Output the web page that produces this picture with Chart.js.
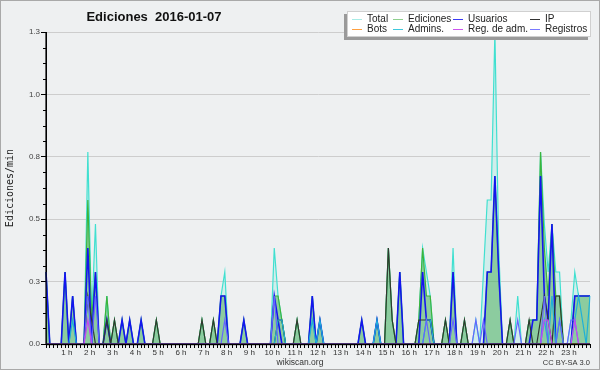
<!DOCTYPE html>
<html><head><meta charset="utf-8">
<script src="https://cdn.jsdelivr.net/npm/chart.js@4/dist/chart.umd.min.js"></script>
<style>html,body{margin:0;padding:0;background:#eef0f1}canvas{display:block}</style>
</head><body>
<canvas id="c" width="600" height="370"></canvas>
<script>
// ---- categories: 10-minute bins of the day ----
const times = [];
for (let h = 0; h < 24; h++) for (let m = 0; m < 60; m += 10)
  times.push(String(h).padStart(2, '0') + ':' + String(m).padStart(2, '0'));

// ---- tick labels ----
const hourLabels = ['1 h','2 h','3 h','4 h','5 h','6 h','7 h','8 h','9 h','10 h','11 h','12 h',
  '13 h','14 h','15 h','16 h','17 h','18 h','19 h','20 h','21 h','22 h','23 h'];
const yTicks = [0, 0.26, 0.52, 0.78, 1.04, 1.3];

// ---- series (edits per minute, 10-minute bins) ----
const total = [
 0.3,0,0,0,0,0.3,0,0.2,0,0,0,0.8,
 0.1,0.5,0,0,0.2,0,0.1,0,0.1,0,0.1,0,
 0,0.1,0,0,0,0.1,0,0,0,0,0,0,
 0,0,0,0,0,0.1,0,0,0.1,0,0.2,0.3,
 0,0,0,0,0.1,0,0,0,0,0,0,0,
 0.4,0.2,0.1,0,0,0,0.1,0,0,0,0.2,0,
 0.1,0,0,0,0,0,0,0,0,0,0,0.1,
 0,0,0,0.1,0,0,0.4,0.1,0,0.3,0,0,
 0,0,0.1,0.4,0.3,0.2,0,0,0,0.1,0,0.4,
 0,0,0.1,0,0,0.1,0,0.3,0.6,0.6,1.3,0.4,
 0,0,0.1,0,0.2,0,0,0.1,0.1,0.1,0.8,0.5,
 0.3,0.5,0.3,0.3,0,0,0.1,0.3,0.2,0.2,0.2,0.2];
const ediciones = [
 0.3,0,0,0,0,0.3,0,0.2,0,0,0,0.6,
 0.1,0.3,0,0,0.2,0,0.1,0,0.1,0,0.1,0,
 0,0.1,0,0,0,0.1,0,0,0,0,0,0,
 0,0,0,0,0,0.1,0,0,0.1,0,0.2,0.2,
 0,0,0,0,0.1,0,0,0,0,0,0,0,
 0.2,0.2,0.1,0,0,0,0.1,0,0,0,0.2,0,
 0.1,0,0,0,0,0,0,0,0,0,0,0.1,
 0,0,0,0.1,0,0,0.4,0.1,0,0.3,0,0,
 0,0,0.1,0.4,0.2,0.2,0,0,0,0.1,0,0.3,
 0,0,0.1,0,0,0,0,0,0.3,0.3,0.7,0.3,
 0,0,0.1,0,0,0,0,0.1,0.1,0.1,0.8,0.4,
 0.2,0.5,0.2,0.2,0,0,0,0.2,0.2,0.2,0.2,0.2];
const usuarios = [
 0.3,0,0,0,0,0.3,0,0.2,0,0,0,0.4,
 0,0.3,0,0,0.1,0,0,0,0.1,0,0.1,0,
 0,0.1,0,0,0,0,0,0,0,0,0,0,
 0,0,0,0,0,0,0,0,0,0,0.2,0.2,
 0,0,0,0,0.1,0,0,0,0,0,0,0,
 0.2,0.1,0,0,0,0,0,0,0,0,0.2,0,
 0.1,0,0,0,0,0,0,0,0,0,0,0.1,
 0,0,0,0.1,0,0,0,0,0,0.3,0,0,
 0,0,0,0.3,0.1,0.1,0,0,0,0,0,0.3,
 0,0,0,0,0,0,0,0,0.3,0.3,0.7,0.3,
 0,0,0,0,0,0,0,0,0.1,0.1,0.7,0.2,
 0.1,0.5,0,0,0,0,0,0.2,0.2,0.2,0.2,0.2];
const ip = [
 0,0,0,0,0,0,0,0,0,0,0,0.2,
 0.1,0,0,0,0.1,0,0.1,0,0,0,0,0,
 0,0,0,0,0,0.1,0,0,0,0,0,0,
 0,0,0,0,0,0.1,0,0,0.1,0,0,0,
 0,0,0,0,0,0,0,0,0,0,0,0,
 0,0.1,0.1,0,0,0,0.1,0,0,0,0,0,
 0,0,0,0,0,0,0,0,0,0,0,0,
 0,0,0,0,0,0,0.4,0.1,0,0,0,0,
 0,0,0.1,0.1,0.1,0.1,0,0,0,0.1,0,0,
 0,0,0.1,0,0,0,0,0,0,0,0,0,
 0,0,0.1,0,0,0,0,0.1,0,0,0.1,0.2,
 0.1,0,0.2,0.2,0,0,0,0,0,0,0,0];
const bots = [
 0,0,0,0,0,0,0,0,0,0,0,0, 0,0,0,0,0,0,0,0,0,0,0,0,
 0,0,0,0,0,0,0,0,0,0,0,0, 0,0,0,0,0,0,0,0,0,0,0,0,
 0,0,0,0,0,0,0,0,0,0,0,0, 0,0,0,0,0,0,0,0,0,0,0,0,
 0,0,0,0,0,0,0,0,0,0,0,0, 0,0,0,0,0,0,0,0,0,0,0,0,
 0,0,0,0,0,0,0,0,0,0,0,0, 0,0,0,0,0,0,0,0,0,0,0,0,
 0,0,0,0,0,0,0,0,0,0,0,0, 0,0,0,0,0,0,0,0,0,0,0,0];
const admins = [
 0,0,0,0,0,0,0,0.1,0,0,0,0,
 0,0,0,0,0,0,0,0,0,0,0,0,
 0,0,0,0,0,0,0,0,0,0,0,0,
 0,0,0,0,0,0,0,0,0,0,0,0,
 0,0,0,0,0,0,0,0,0,0,0,0,
 0,0.1,0.1,0,0,0,0,0,0,0,0.1,0,
 0.1,0,0,0,0,0,0,0,0,0,0,0,
 0,0,0,0.1,0,0,0,0,0,0,0,0,
 0,0,0,0,0.1,0.1,0,0,0,0,0,0,
 0,0,0,0,0,0,0,0,0,0,0,0,
 0,0,0,0,0,0,0,0,0,0,0,0.1,
 0,0.2,0,0.1,0,0,0,0.1,0.2,0.1,0,0.2];
const regAdm = [
 0,0,0,0,0,0,0,0,0,0,0,0.1,
 0,0,0,0,0,0,0,0,0,0,0,0,
 0,0,0,0,0,0,0,0,0,0,0,0,
 0,0,0,0,0,0,0,0,0,0,0,0,
 0,0,0,0,0,0,0,0,0,0,0,0,
 0,0,0,0,0,0,0,0,0,0,0,0,
 0,0,0,0,0,0,0,0,0,0,0,0,
 0,0,0,0,0,0,0,0,0,0,0,0,
 0,0,0,0,0,0,0,0,0,0,0,0,
 0,0,0,0,0,0,0,0,0,0,0,0,
 0,0,0,0,0,0,0,0,0,0,0,0.1,
 0.1,0,0,0,0,0,0,0.1,0,0,0,0];
const registros = [
 0,0,0,0,0,0,0,0,0,0,0,0.2,
 0,0.2,0,0,0,0,0,0,0,0,0,0,
 0,0,0,0,0,0,0,0,0,0,0,0,
 0,0,0,0,0,0,0,0,0,0,0,0.1,
 0,0,0,0,0,0,0,0,0,0,0,0,
 0.2,0,0,0,0,0,0,0,0,0,0,0,
 0,0,0,0,0,0,0,0,0,0,0,0,
 0,0,0,0,0,0,0,0,0,0,0,0,
 0,0,0,0,0.1,0,0,0,0,0,0,0.1,
 0,0,0,0,0,0.1,0,0.1,0,0,0,0,
 0,0,0,0,0.1,0,0,0,0,0,0,0.2,
 0,0,0,0.1,0,0,0.1,0.1,0,0,0,0];

const BG = '#eef0f1';
const titleText = 'Ediciones  2016-01-07';
const yTitle = 'Ediciones/min';
const legendRows = [
  [['Total', '#a8ece6'], ['Ediciones', '#8fd08f'], ['Usuarios', '#3a3af5'], ['IP', '#333333']],
  [['Bots', '#ffa040'], ['Admins.', '#3ec8dc'], ['Reg. de adm.', '#cc55ee'], ['Registros', '#7a7aff']]
];

Chart.defaults.font.family = '"Liberation Sans", Arial, sans-serif';

const decor = {
  id: 'decor',
  beforeDraw(chart) {
    const c = chart.ctx;
    c.save(); c.fillStyle = BG; c.fillRect(0, 0, chart.width, chart.height); c.restore();
  },
  afterDatasetsDraw(chart) {
    const { ctx, chartArea: a, scales: { y } } = chart;
    ctx.save();
    ctx.fillStyle = '#000';
    ctx.fillRect(a.left, a.bottom - 0.5, a.right - a.left, 1.7);
    ctx.fillRect(a.left - 0.6, a.top, 1.3, a.bottom - a.top + 1);
    ctx.strokeStyle = '#000'; ctx.lineWidth = 1;
    for (let k = 0; k < yTicks.length - 1; k++) {
      const step = (yTicks[k + 1] - yTicks[k]) / 4;
      for (let j = 1; j < 4; j++) {
        const py = Math.round(y.getPixelForValue(yTicks[k] + j * step)) + 0.5;
        ctx.beginPath(); ctx.moveTo(a.left - 3, py); ctx.lineTo(a.left, py); ctx.stroke();
      }
    }
    ctx.restore();
  },
  afterDraw(chart) {
    const ctx = chart.ctx;
    ctx.save();
    // title
    ctx.fillStyle = '#111';
    ctx.font = 'bold 13px "Liberation Sans", Arial, sans-serif';
    ctx.textAlign = 'center'; ctx.textBaseline = 'alphabetic';
    ctx.fillText(titleText, 154, 21);
    // legend box
    const bx = 347, by = 11, bw = 244, bh = 26;
    ctx.fillStyle = '#9a9a9a';
    ctx.fillRect(bx - 3, by + 3, bw, bh);
    ctx.fillStyle = '#ffffff';
    ctx.fillRect(bx, by, bw, bh);
    ctx.strokeStyle = '#d0d0d0'; ctx.lineWidth = 1;
    ctx.strokeRect(bx + 0.5, by + 0.5, bw - 1, bh - 1);
    const colX = [352, 393, 453, 530];
    const rowY = [19.5, 29.5];
    ctx.font = '10px "Liberation Sans", Arial, sans-serif';
    ctx.textAlign = 'left'; ctx.textBaseline = 'middle';
    legendRows.forEach((row, r) => row.forEach(([txt, col], k) => {
      ctx.strokeStyle = col; ctx.lineWidth = 1;
      ctx.beginPath(); ctx.moveTo(colX[k], rowY[r]); ctx.lineTo(colX[k] + 10, rowY[r]); ctx.stroke();
      ctx.fillStyle = '#222';
      ctx.fillText(txt, colX[k] + 15, rowY[r]);
    }));
    // footer
    ctx.fillStyle = '#333';
    ctx.textBaseline = 'alphabetic';
    ctx.font = '8.5px "Liberation Sans", Arial, sans-serif';
    ctx.textAlign = 'center';
    ctx.fillText('wikiscan.org', 300, 365);
    ctx.font = '7.5px "Liberation Sans", Arial, sans-serif';
    ctx.textAlign = 'right';
    ctx.fillText('CC BY-SA 3.0', 590, 365);
    // frame
    ctx.strokeStyle = '#a9a9a9'; ctx.lineWidth = 1;
    ctx.strokeRect(0.5, 0.5, chart.width - 1, chart.height - 1);
    ctx.restore();
  }
};

const line = (label, data, color, width, order, extra) => Object.assign({
  label, data, borderColor: color, borderWidth: width, order,
  fill: false, pointRadius: 0, tension: 0
}, extra || {});

new Chart(document.getElementById('c'), {
  type: 'line',
  data: {
    labels: times,
    datasets: [
      line('Total', total, '#40e0d0', 1.2, 8, { fill: 'origin', backgroundColor: 'rgba(64,224,208,0.16)' }),
      line('Ediciones', ediciones, '#3cb43c', 1.2, 7, { fill: 'origin', backgroundColor: 'rgba(45,160,55,0.42)' }),
      line('Usuarios', usuarios, '#1414f0', 1.6, 6),
      line('IP', ip, '#303830', 1.2, 5),
      line('Bots', bots, '#ff9933', 1.2, 4),
      line('Admins.', admins, '#1eb0d8', 1.2, 3),
      line('Registros', registros, '#6464ff', 1.2, 2),
      line('Reg. de adm.', regAdm, '#c848f0', 1.2, 1)
    ]
  },
  options: {
    responsive: false,
    devicePixelRatio: 1,
    animation: false,
    layout: { padding: { top: 32, right: 10, left: 0, bottom: 0 } },
    plugins: {
      legend: { display: false },
      tooltip: { enabled: false },
      title: { display: false },
      filler: { drawTime: 'beforeDatasetsDraw' }
    },
    scales: {
      x: {
        type: 'category', offset: false,
        grid: { display: true, drawOnChartArea: false, drawTicks: true, tickLength: 4, tickColor: '#000', color: '#000' },
        border: { display: true, color: '#000', width: 1 },
        ticks: {
          autoSkip: false, maxRotation: 0, minRotation: 0, padding: 0, labelOffset: -2,
          font: { size: 8 }, color: '#333',
          callback: (v, i) => (i % 6 === 0 && i > 0) ? hourLabels[i / 6 - 1] : ''
        },
        afterFit: s => { s.height = 26; }
      },
      y: {
        min: 0, max: 1.3,
        afterBuildTicks: s => { s.ticks = yTicks.map(v => ({ value: v })); },
        grid: {
          color: c => (c.tick && c.tick.value === 0) ? 'rgba(0,0,0,0)' : '#cdcdcd',
          tickColor: '#000', tickLength: 5, drawTicks: true, lineWidth: 1
        },
        border: { display: true, color: '#000', width: 1 },
        ticks: { padding: 1, font: { size: 8 }, color: '#444', callback: v => Number(v).toFixed(1) },
        title: { display: true, text: yTitle, font: { family: '"DejaVu Sans Mono", monospace', size: 10 }, color: '#222', padding: { top: 4, bottom: 0 } },
        afterFit: s => { s.width = 46; }
      }
    }
  },
  plugins: [decor]
});
</script>
</body></html>
